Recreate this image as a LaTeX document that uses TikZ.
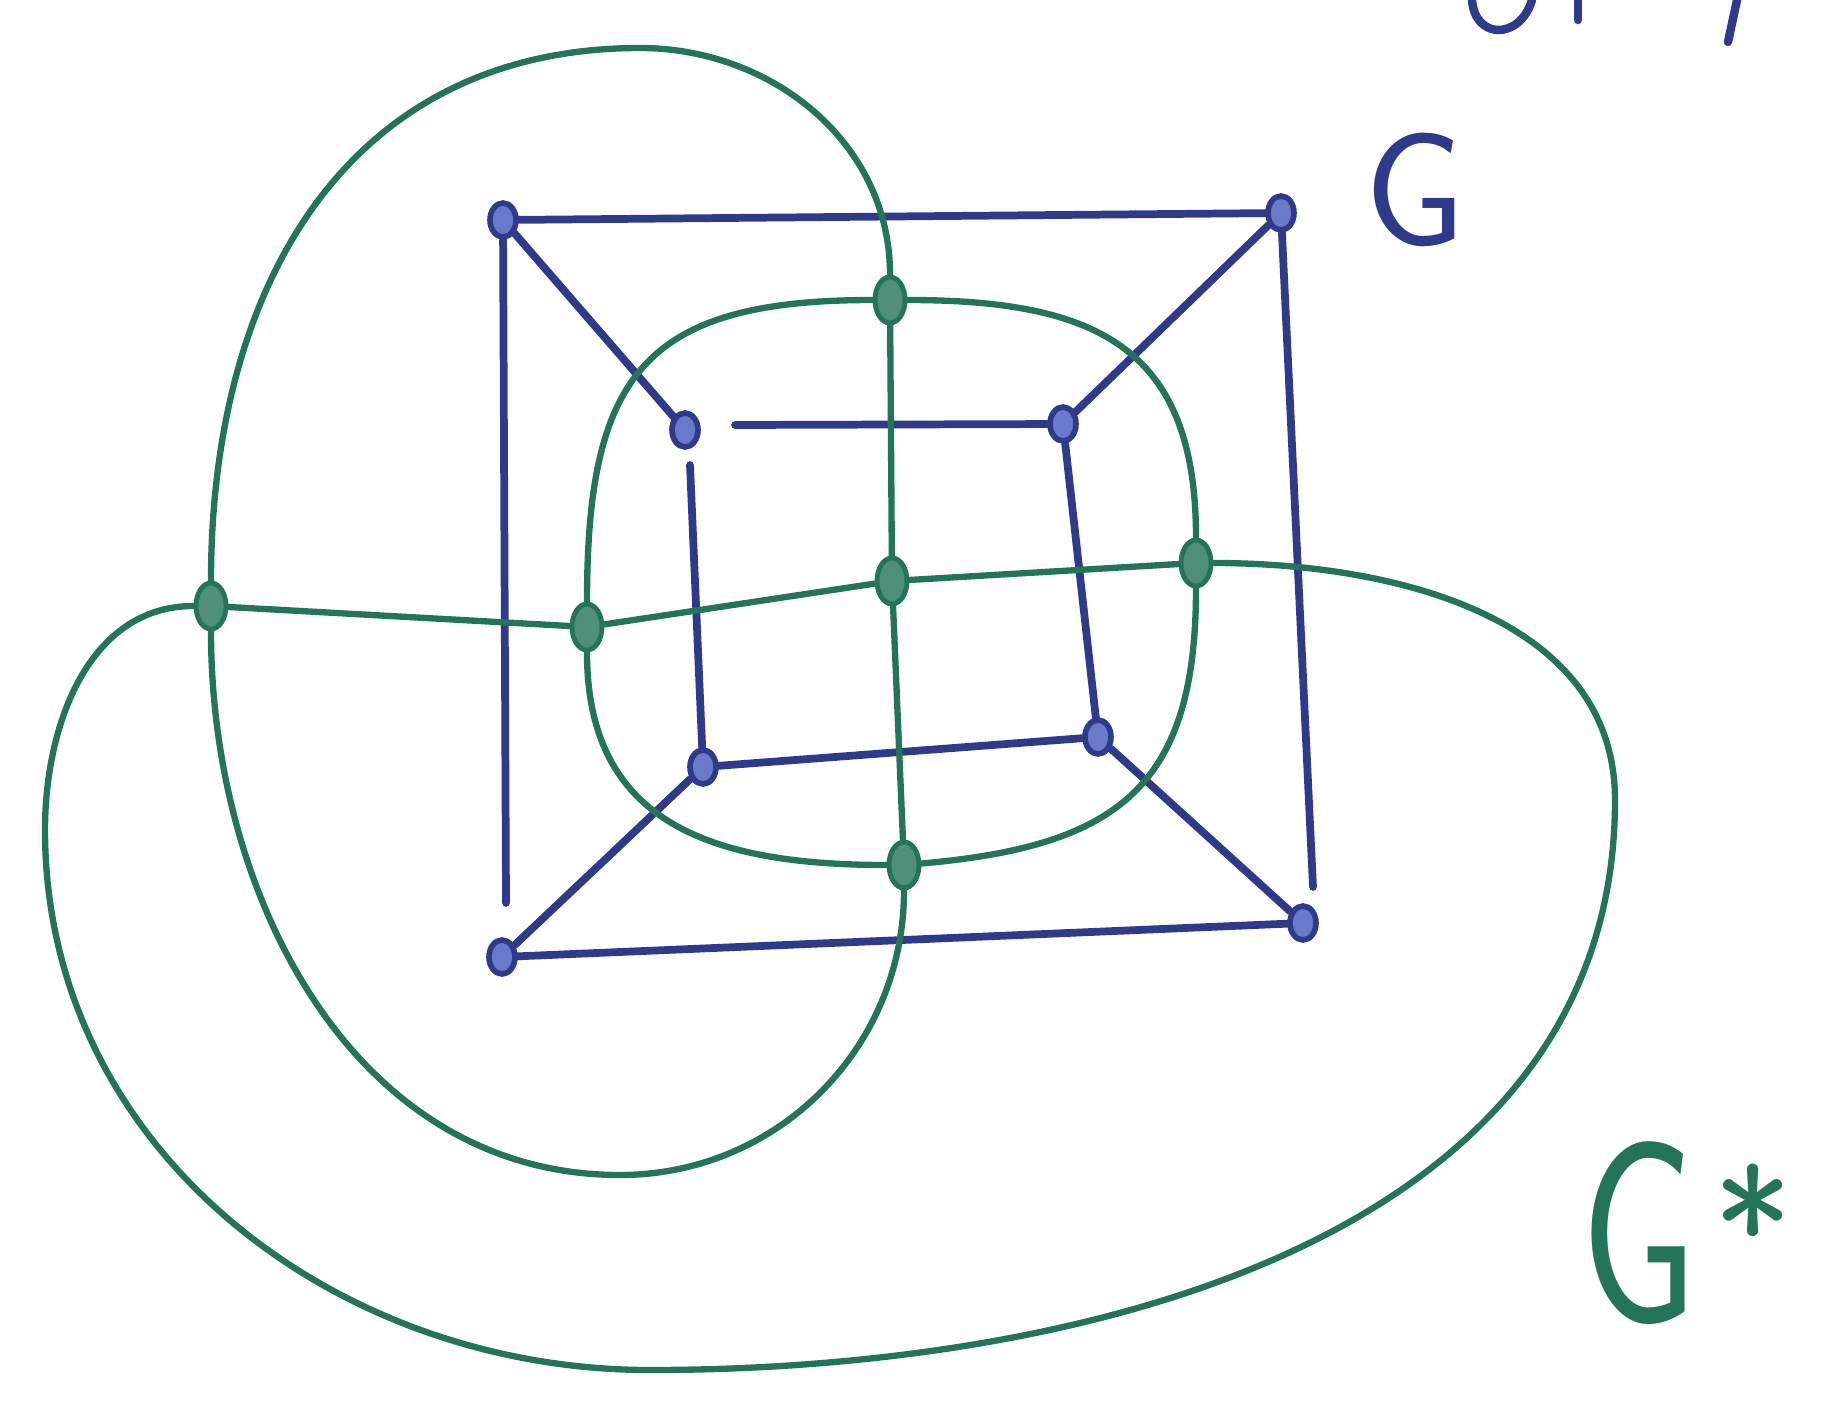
\documentclass[tikz,border=0pt]{standalone}
\usetikzlibrary{positioning,shapes.geometric,backgrounds}
\definecolor{penblue}{RGB}{48,58,138}
\definecolor{dotblue}{RGB}{105,122,200}
\definecolor{pengreen}{RGB}{36,116,88}

\begin{document}
\begin{tikzpicture}[x=0.01cm,y=-0.01cm,
    gedge/.style={penblue,line width=2.2pt,line cap=round},
    dedge/.style={pengreen,line width=1.8pt,line cap=round},
    gvert/.style={ellipse,draw=penblue,fill=dotblue,line width=1.6pt,
                  minimum width=0.26cm,minimum height=0.34cm,inner sep=0pt},
    dvert/.style={ellipse,draw=pengreen,fill=pengreen!80,line width=1.4pt,
                  minimum width=0.3cm,minimum height=0.46cm,inner sep=0pt}]
  \useasboundingbox (0,0) rectangle (1821,1403);

  % G: the cube
  \node[gvert] (otl) at (503,220) {};
  \node[gvert] (otr) at (1281,213) {};
  \node[gvert] (obl) at (502,957) {};
  \node[gvert] (obr) at (1303,923) {};
  \node[gvert] (itl) at (685,430) {};
  \node[gvert] (itr) at (1063,424) {};
  \node[gvert] (ibl) at (703,767) {};
  \node[gvert] (ibr) at (1098,737) {};
  \coordinate (lend) at (506,903);
  \coordinate (rend) at (1313,887);
  \coordinate (itopstart) at (735,425);
  \coordinate (ileftstart) at (690,465);

  % G*: one vertex per face
  \node[dvert] (ftop) at (890,300) {};
  \node[dvert] (fin) at (892,581) {};
  \node[dvert] (fleft) at (587,627) {};
  \node[dvert] (fright) at (1196,563) {};
  \node[dvert] (fbot) at (904,865) {};
  \node[dvert] (fout) at (211,606) {};

  \begin{scope}[on background layer]
    \draw[gedge] (otl) -- (otr);
    \draw[gedge] (obl) -- (obr);
    \draw[gedge] (otl) -- (lend);
    \draw[gedge] (otr) -- (rend);
    \draw[gedge] (itopstart) -- (itr);
    \draw[gedge] (ibl) -- (ibr);
    \draw[gedge] (ileftstart) -- (ibl);
    \draw[gedge] (itr) -- (ibr);
    \draw[gedge] (otl) -- (itl);
    \draw[gedge] (otr) -- (itr);
    \draw[gedge] (obl) -- (ibl);
    \draw[gedge] (obr) -- (ibr);

    \draw[dedge] (ftop) -- (fin);
    \draw[dedge] (fin) -- (fbot);
    \draw[dedge] (fin) -- (fleft);
    \draw[dedge] (fin) -- (fright);
    \draw[dedge] (fout) -- (fleft);
    \draw[dedge] (ftop) to[out=180,in=90,looseness=1.4] (fleft);
    \draw[dedge] (fleft) to[out=-90,in=180,looseness=1.2] (fbot);
    \draw[dedge] (fbot) to[out=5,in=-90,looseness=1.3] (fright);
    \draw[dedge] (fright) to[out=90,in=0,looseness=1.3] (ftop);
    \draw[dedge] (fout) to[out=90,in=180,looseness=1.1] (640,48)
                 to[out=0,in=90] (ftop);
    \draw[dedge] (fbot) to[out=-90,in=0] (620,1175)
                 to[out=180,in=-90] (fout);
    \draw[dedge] (fright) to[out=0,in=90] (1615,800)
                 to[out=-90,in=0] (650,1370)
                 to[out=180,in=-90] (45,830)
                 to[out=90,in=180] (fout);
  \end{scope}

  \node[penblue,font=\sffamily\fontsize{46}{46}\selectfont] (glabel) at (1415,190) {G};
  \node[pengreen,font=\sffamily\fontsize{74}{74}\selectfont,anchor=base west,inner sep=0pt]
    (gstarlabel) at (1580,1322) {\scalebox{0.72}[1]{G}\hspace{0.06em}\raisebox{9pt}{\fontsize{48}{48}\selectfont *}};

  % cut-off writing at the top edge
  \draw[penblue,line width=2.4pt,line cap=round] (1472,0) .. controls (1475,40) and (1520,40) .. (1532,0);
  \draw[penblue,line width=2.4pt,line cap=round] (1578,0) -- (1578,20);
  \draw[penblue,line width=2.4pt,line cap=round] (1737,0) -- (1728,42);
\end{tikzpicture}
\end{document}
